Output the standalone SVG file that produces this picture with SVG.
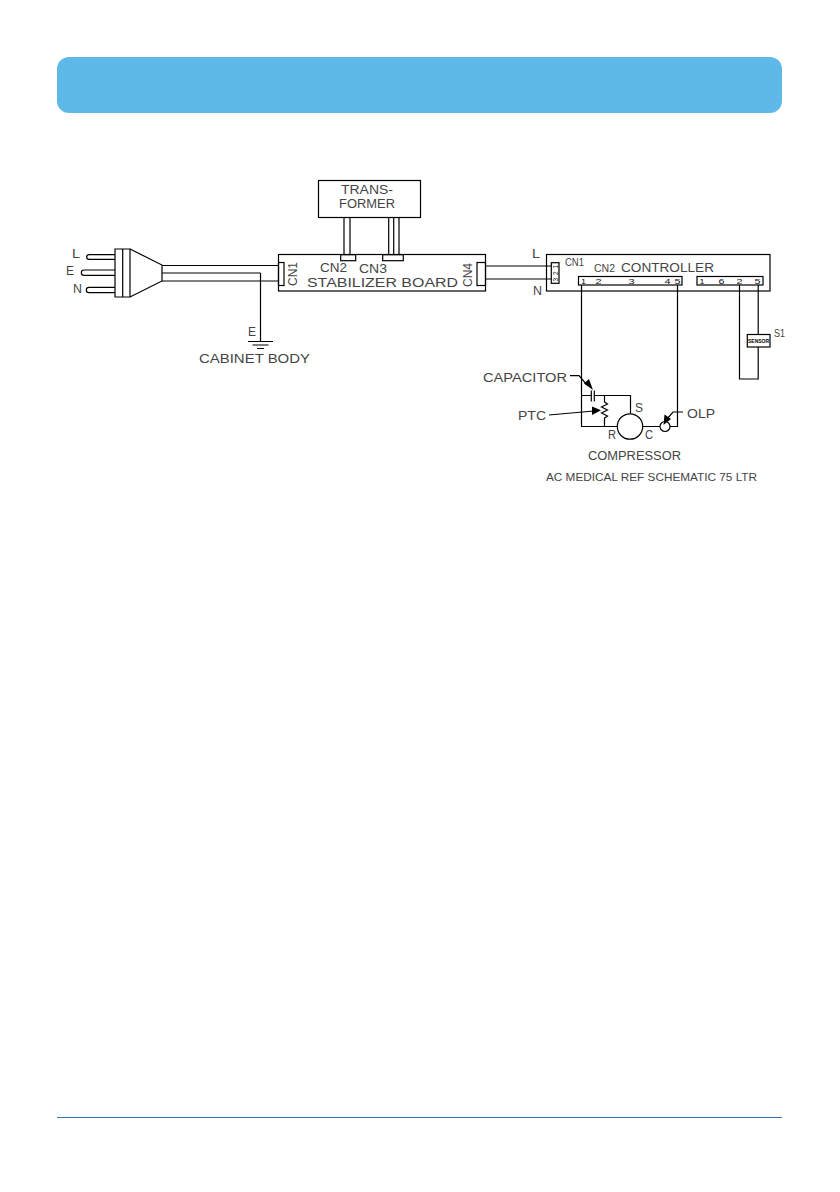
<svg xmlns="http://www.w3.org/2000/svg" width="840" height="1192" viewBox="0 0 840 1192">
<style>
.w{fill:none;stroke:#000;stroke-width:1.2}
.t{font-family:"Liberation Sans",Arial,sans-serif;fill:#444;font-size:12.5px}
.s{font-size:8px;fill:#111}
.a{fill:#000;stroke:none}
</style>
<rect width="840" height="1192" fill="#fff"/>
<rect id="header" x="57" y="57" width="725" height="56" rx="12" fill="#5fb9e8"/>
<line id="footer" x1="57" y1="1117.500" x2="782" y2="1117.500" stroke="#3a74a5" stroke-width="1"/>
<g id="connectors" class="w">
<path d="M162 265.500H278M162 273H260.500M162 281H278"/>
<path d="M260.500 273V341M248 341.500H273M252.500 345H268.500M257 348.500H264"/>
<path d="M344 217V255M350 217V255M388.700 217V255M393.700 217V255M399 217V255"/>
<path d="M485 266H551M485 279H551"/>
<path d="M581.500 285V426.500H617.500M581.500 395.500H591M594 395.500H630.500V413.500"/>
<path d="M604.500 395.500V402L607.500 404L601.500 407L607.500 410L601.500 413L607.500 416L604.500 418V426.500"/>
<path d="M591.300 390.500V401.500M594.300 390.500V401.500"/>
<path d="M642.700 426.500H660M670 426.500H677.500V285"/>
<path d="M739.500 285V379H758.200V347M758.200 334V285"/>
<path d="M570 375.700H579L587 385"/>
<path d="M549 415L594 411"/>
<path d="M683 412H673L667 419"/>
</g>
<path class="a" d="M593 390L584 383.500L589 379Z"/>
<path class="a" d="M601 410.200L592 406.500V415Z"/>
<path class="a" d="M663.500 425L664.500 414.500L671 419Z"/>
<g id="plug" class="w">
<path d="M115 249H130V297H115ZM122.700 249V297"/>
<path d="M130 249L162 265V281L130 297"/>
<path d="M115 254.700H89A2.300 2.300 0 0 0 89 259.300H115M115 270H84A2.600 2.600 0 0 0 84 275.300H115M115 287.300H89A2.700 2.700 0 0 0 89 292.700H115"/>
<text class="t" x="72" y="258" textLength="8" lengthAdjust="spacingAndGlyphs" stroke="none">L</text>
<text class="t" x="66" y="275" textLength="8" lengthAdjust="spacingAndGlyphs" stroke="none">E</text>
<text class="t" x="73" y="293" textLength="9" lengthAdjust="spacingAndGlyphs" stroke="none">N</text>
</g>
<g id="ground">
<text class="t" x="248" y="336" textLength="8" lengthAdjust="spacingAndGlyphs">E</text>
<text class="t" x="199" y="363" textLength="111" lengthAdjust="spacingAndGlyphs">CABINET BODY</text>
</g>
<g id="transformer">
<rect class="w" x="318.500" y="180.500" width="102" height="37"/>
<text class="t" x="341" y="194" textLength="52" lengthAdjust="spacingAndGlyphs">TRANS-</text>
<text class="t" x="339" y="207.500" textLength="56" lengthAdjust="spacingAndGlyphs">FORMER</text>
</g>
<g id="stabilizer-board">
<rect class="w" x="278.500" y="254.500" width="207" height="36.500"/>
<rect class="w" x="278.500" y="262.500" width="5.500" height="23"/>
<rect class="w" x="477" y="262.500" width="8.500" height="23"/>
<rect class="w" x="340.700" y="254.700" width="15" height="6"/>
<rect class="w" x="382.700" y="254.700" width="20.600" height="6"/>
<text class="t" transform="translate(297 286) rotate(-90)" textLength="24" lengthAdjust="spacingAndGlyphs">CN1</text>
<text class="t" transform="translate(472 287) rotate(-90)" textLength="24" lengthAdjust="spacingAndGlyphs">CN4</text>
<text class="t" x="320" y="272" textLength="27" lengthAdjust="spacingAndGlyphs">CN2</text>
<text class="t" x="359" y="273" textLength="28" lengthAdjust="spacingAndGlyphs">CN3</text>
<text class="t" x="307" y="287" textLength="151" lengthAdjust="spacingAndGlyphs">STABILIZER BOARD</text>
</g>
<g id="controller">
<rect class="w" x="546.500" y="254.500" width="223.500" height="36.500"/>
<rect class="w" x="551.300" y="262.700" width="7.700" height="20.600"/>
<rect class="w" x="578.500" y="276.500" width="103.500" height="8.500"/>
<rect class="w" x="697" y="276.500" width="66" height="8.500"/>
<text class="t" x="532" y="258" textLength="8" lengthAdjust="spacingAndGlyphs">L</text>
<text class="t" x="533" y="295" textLength="9" lengthAdjust="spacingAndGlyphs">N</text>
<text class="t" x="565" y="266" style="font-size:11px" textLength="19" lengthAdjust="spacingAndGlyphs">CN1</text>
<text class="t" x="594" y="272" style="font-size:11px" textLength="21" lengthAdjust="spacingAndGlyphs">CN2</text>
<text class="t" x="621" y="272" textLength="93" lengthAdjust="spacingAndGlyphs">CONTROLLER</text>
<text class="t s" transform="translate(557.500 268.500) rotate(-90)" style="font-size:6.500px">1</text>
<text class="t s" transform="translate(557.500 275) rotate(-90)" style="font-size:6.500px">2</text>
<text class="t s" transform="translate(557.500 281.500) rotate(-90)" style="font-size:6.500px">3</text>
<text class="t s" x="581" y="284" textLength="5" lengthAdjust="spacingAndGlyphs">1</text>
<text class="t s" x="595.500" y="284" textLength="6" lengthAdjust="spacingAndGlyphs">2</text>
<text class="t s" x="628.500" y="284" textLength="6" lengthAdjust="spacingAndGlyphs">3</text>
<text class="t s" x="664.500" y="284" textLength="6" lengthAdjust="spacingAndGlyphs">4</text>
<text class="t s" x="674.500" y="284" textLength="6" lengthAdjust="spacingAndGlyphs">5</text>
<text class="t s" x="699.500" y="284" textLength="5" lengthAdjust="spacingAndGlyphs">1</text>
<text class="t s" x="718.500" y="284" textLength="6" lengthAdjust="spacingAndGlyphs">6</text>
<text class="t s" x="736.500" y="284" textLength="6" lengthAdjust="spacingAndGlyphs">2</text>
<text class="t s" x="754.500" y="284" textLength="6" lengthAdjust="spacingAndGlyphs">5</text>
</g>
<g id="sensor">
<rect x="747.300" y="334.500" width="22.700" height="12.500" fill="#fff" stroke="#000" stroke-width="1.200"/>
<text x="748" y="343" font-family="'Liberation Sans',Arial,sans-serif" font-weight="bold" font-size="5.500" textLength="21" lengthAdjust="spacingAndGlyphs">SENSOR</text>
<text class="t" x="774" y="337" style="font-size:10.500px" textLength="11" lengthAdjust="spacingAndGlyphs">S1</text>
</g>
<g id="compressor">
<circle class="w" cx="630" cy="426.500" r="12.700"/>
<text class="t" x="635" y="412" textLength="8" lengthAdjust="spacingAndGlyphs">S</text>
<text class="t" x="608" y="439" textLength="8" lengthAdjust="spacingAndGlyphs">R</text>
<text class="t" x="645" y="439" textLength="8" lengthAdjust="spacingAndGlyphs">C</text>
<text class="t" x="588" y="460" textLength="93" lengthAdjust="spacingAndGlyphs">COMPRESSOR</text>
</g>
<g id="olp">
<circle class="w" cx="665" cy="426.500" r="5"/>
<text class="t" x="687" y="418" textLength="28" lengthAdjust="spacingAndGlyphs">OLP</text>
</g>
<g id="labels">
<text class="t" x="483" y="382" textLength="84" lengthAdjust="spacingAndGlyphs">CAPACITOR</text>
<text class="t" x="518" y="419.500" textLength="28" lengthAdjust="spacingAndGlyphs">PTC</text>
<text class="t" x="546" y="481" style="font-size:10.500px" textLength="211" lengthAdjust="spacingAndGlyphs">AC MEDICAL REF SCHEMATIC 75 LTR</text>
</g>
</svg>
